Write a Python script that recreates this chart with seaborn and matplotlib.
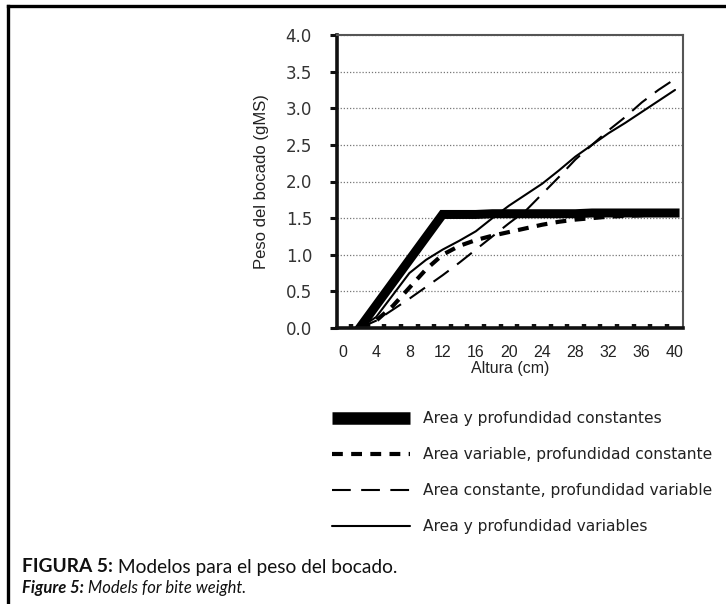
import numpy as np
import pandas as pd
import matplotlib
matplotlib.use("Agg")
import matplotlib.pyplot as plt
from matplotlib.lines import Line2D
import seaborn as sns

# ---------------- data ----------------
altura = [0, 2, 4, 6, 8, 10, 12, 14, 16, 18, 20, 22, 24, 26, 28, 30, 32, 34, 36, 38, 40]
area_prof_const = [np.nan, 0.0, 0.31, 0.62, 0.93, 1.24, 1.55, 1.55, 1.55, 1.56, 1.56,
                   1.56, 1.56, 1.56, 1.56, 1.57, 1.57, 1.57, 1.57, 1.57, 1.57]
area_var_prof_const = [np.nan, 0.0, 0.10, 0.30, 0.55, 0.80, 1.00, 1.12, 1.20, 1.26, 1.31,
                       1.36, 1.41, 1.45, 1.48, 1.50, 1.52, 1.53, 1.54, 1.55, 1.55]
area_const_prof_var = [np.nan, 0.0, 0.10, 0.25, 0.40, 0.56, 0.72, 0.89, 1.07, 1.25, 1.43,
                       1.60, 1.83, 2.06, 2.30, 2.50, 2.70, 2.88, 3.08, 3.25, 3.40]
area_prof_var = [np.nan, 0.0, 0.15, 0.45, 0.75, 0.93, 1.07, 1.19, 1.32, 1.50, 1.67,
                 1.82, 1.97, 2.15, 2.34, 2.50, 2.66, 2.80, 2.95, 3.10, 3.25]

series_labels = ["Area y profundidad constantes",
                 "Area variable, profundidad constante",
                 "Area constante, profundidad variable",
                 "Area y profundidad variables"]
x_ticks = [0, 4, 8, 12, 16, 20, 24, 28, 32, 36, 40]
y_ticks = [0.0, 0.5, 1.0, 1.5, 2.0, 2.5, 3.0, 3.5, 4.0]
x_label = "Altura (cm)"
y_label = "Peso del bocado (gMS)"
caption1 = ("FIGURA 5:", " Modelos para el peso del bocado.")
caption2 = ("Figure 5:", " Models for bite weight.")

# ---------------- style ----------------
sns.set_theme(style="white")
plt.rcParams["font.family"] = ["Liberation Sans", "DejaVu Sans"]
WIDE = ["DejaVu Sans"]

W, H = 726, 604
fig = plt.figure(figsize=(W / 100, H / 100), dpi=100)
fig.patch.set_facecolor("white")
ax = fig.add_axes([337 / W, 1 - 328 / H, 346 / W, 293 / H])

df = pd.DataFrame({"altura": altura,
                   series_labels[0]: area_prof_const,
                   series_labels[1]: area_var_prof_const,
                   series_labels[2]: area_const_prof_var,
                   series_labels[3]: area_prof_var})

styles = [
    dict(lw=6.5, ls="-", solid_capstyle="projecting", solid_joinstyle="miter"),
    dict(lw=3.0, ls=(0, (2.6, 2.0)), dash_capstyle="butt"),
    dict(lw=1.5, ls=(0, (9, 5)), dash_capstyle="butt"),
    dict(lw=1.5, ls="-"),
]
for lab, st in zip(series_labels, styles):
    sub = df[["altura", lab]].dropna()
    sns.lineplot(data=sub, x="altura", y=lab, ax=ax, color="black",
                 label=lab, linewidth=st["lw"], linestyle=st["ls"],
                 **{k: v for k, v in st.items() if k not in ("lw", "ls")})

ax.set_xlim(-0.72, 40.96)
ax.set_ylim(0, 4.0)
ax.set_xticks(x_ticks)
ax.set_xticklabels([str(v) for v in x_ticks])
ax.set_xticks(list(range(1, 41, 2)), minor=True)
ax.set_yticks(y_ticks)
ax.set_yticklabels([f"{v:.1f}" for v in y_ticks])

ax.tick_params(axis="x", which="major", length=0, labelsize=11.5, pad=12, colors="#222")
ax.tick_params(axis="x", which="minor", direction="in", length=3.2, width=3.2,
               color="#111", bottom=True)
ax.tick_params(axis="y", which="major", direction="out", length=5, width=2.2,
               color="#111", labelsize=12, pad=13, left=True, labelcolor="#333")
for t in ax.get_yticklabels():
    t.set_family(WIDE)

ax.set_xlabel(x_label, fontsize=11.5, labelpad=1, color="#222")
ax.set_ylabel(y_label, fontsize=12, labelpad=12, color="#222")

ax.yaxis.grid(True, linestyle=(0, (1, 1.5)), color="#777", linewidth=0.9)
ax.xaxis.grid(False)
ax.set_axisbelow(True)

for s in ("left", "bottom"):
    ax.spines[s].set_linewidth(2.6)
    ax.spines[s].set_color("#111")
for s in ("top", "right"):
    ax.spines[s].set_linewidth(1.5)
    ax.spines[s].set_color("#555")

# ---------------- legend ----------------
handles, labels = ax.get_legend_handles_labels()
ax.get_legend().remove()
leg = fig.legend(handles, labels, loc="upper left",
                 bbox_to_anchor=(332 / W, 1 - 411 / H), frameon=False,
                 prop={"family": WIDE, "size": 11.2}, handlelength=5.0,
                 handletextpad=0.85, labelspacing=1.35, borderpad=0, borderaxespad=0)
for t in leg.get_texts():
    t.set_color("#222")
leg.get_lines()[0].set_linewidth(9)
leg.get_lines()[0].set_solid_capstyle("butt")

# ---------------- frame & caption ----------------
fig.add_artist(Line2D([8 / W, 1.0], [1 - 6 / H, 1 - 6 / H], transform=fig.transFigure,
                      color="black", lw=2.4, solid_capstyle="projecting"))
fig.add_artist(Line2D([8 / W, 8 / W], [1 - 6 / H, 0.0], transform=fig.transFigure,
                      color="black", lw=2.4, solid_capstyle="projecting"))

renderer = fig.canvas.get_renderer()
cap_font = ["Lato", "DejaVu Sans"]


def caption(parts, y_px, italic, size):
    style = "italic" if italic else "normal"
    t1 = fig.text(22 / W, 1 - y_px / H, parts[0], family=cap_font, fontsize=size,
                  weight="bold", style=style, va="center", ha="left", color="#111")
    bb = t1.get_window_extent(renderer)
    t2 = fig.text(bb.x1 / W, 1 - y_px / H, parts[1], family=cap_font, fontsize=size,
                  weight="normal", style=style, va="center", ha="left", color="#111")
    return t1, t2


def fitted_caption(parts, y_px, italic, target_px):
    t1, t2 = caption(parts, y_px, italic, 12)
    w = t2.get_window_extent(renderer).x1 - t1.get_window_extent(renderer).x0
    size = 12 * target_px / w
    t1.remove()
    t2.remove()
    caption(parts, y_px, italic, size)


fitted_caption(caption1, 567, False, 375)
fitted_caption(caption2, 588, True, 224)

fig.savefig("out.png", dpi=100, facecolor="white")
